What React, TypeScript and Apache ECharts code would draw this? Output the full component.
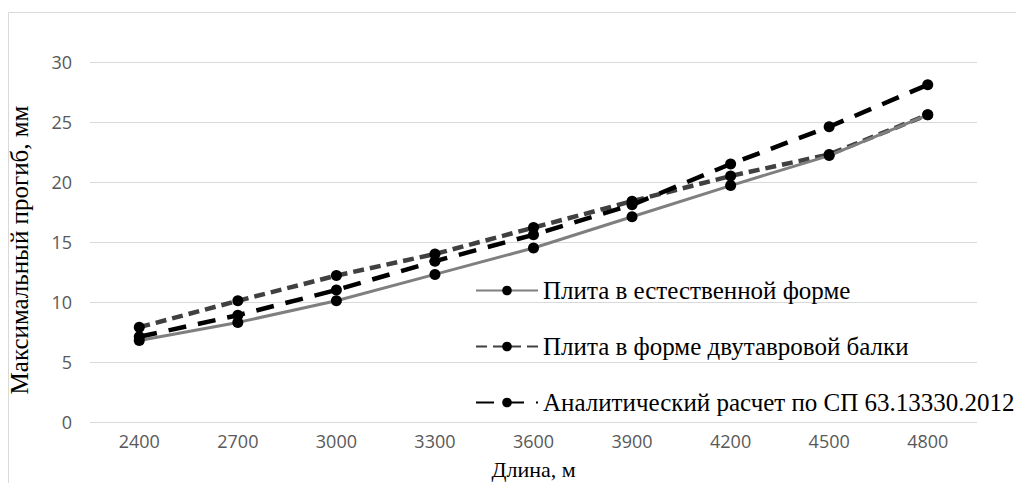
import React, { useEffect, useRef } from "react";
import * as echarts from "echarts";

const categories = ["2400", "2700", "3000", "3300", "3600", "3900", "4200", "4500", "4800"];
const naturalForm = [6.8, 8.3, 10.1, 12.3, 14.5, 17.1, 19.7, 22.2, 25.6];
const iBeamForm = [7.9, 10.1, 12.2, 14.0, 16.2, 18.4, 20.5, 22.3, 25.6];
const analytical = [7.1, 8.9, 11.0, 13.4, 15.6, 18.1, 21.5, 24.6, 28.1];
const seriesNames = [
  "Плита в естественной форме",
  "Плита в форме двутавровой балки",
  "Аналитический расчет по СП 63.13330.2012",
];

export default function App() {
  const ref = useRef<HTMLDivElement>(null);
  useEffect(() => {
    const chart = echarts.init(ref.current!, null, { renderer: "svg" });
    const serif = "'Liberation Serif', 'DejaVu Serif', serif";
    const sans = "'Open Sans', 'Noto Sans', sans-serif";
    chart.setOption({
      animation: false,
      backgroundColor: "#ffffff",
      graphic: [
        {
          type: "rect",
          shape: { x: 8.5, y: 12.5, width: 1100, height: 600 },
          style: { fill: "none", stroke: "#d9d9d9", lineWidth: 1 },
          silent: true,
          z: -1,
        },
      ],
      grid: {
        left: 90,
        right: 39,
        top: 62,
        bottom: 61,
        containLabel: false,
        outerBoundsMode: "none",
      },
      legend: {
        orient: "vertical",
        left: 470,
        top: 273,
        itemGap: 31,
        itemWidth: 62,
        itemHeight: 12,
        textStyle: { fontFamily: serif, fontSize: 25, color: "#000" },
        data: seriesNames,
      },
      xAxis: {
        type: "category",
        data: categories,
        boundaryGap: true,
        axisLine: { show: false },
        axisTick: { show: false },
        axisLabel: { color: "#595959", fontSize: 18, fontFamily: sans, margin: 10 },
        name: "Длина, м",
        nameLocation: "middle",
        nameGap: 36,
        nameTextStyle: { fontFamily: serif, fontSize: 22, color: "#000" },
      },
      yAxis: {
        type: "value",
        min: 0,
        max: 30,
        interval: 5,
        axisLine: { show: false },
        axisTick: { show: false },
        splitLine: { lineStyle: { color: "#d9d9d9", width: 1 } },
        axisLabel: { color: "#595959", fontSize: 18, fontFamily: sans, margin: 18 },
        name: "Максимальный прогиб, мм",
        nameLocation: "middle",
        nameGap: 58,
        nameRotate: 90,
        nameTextStyle: { fontFamily: serif, fontSize: 25, color: "#000", padding: [0, 16, 0, 0] },
      },
      series: [
        {
          name: seriesNames[0],
          type: "line",
          data: naturalForm,
          symbol: "circle",
          symbolSize: 11,
          itemStyle: { color: "#000" },
          lineStyle: { color: "#7f7f7f", width: 3, type: "solid" },
          z: 3,
        },
        {
          name: seriesNames[1],
          type: "line",
          data: iBeamForm,
          symbol: "circle",
          symbolSize: 11,
          itemStyle: { color: "#000" },
          lineStyle: { color: "#404040", width: 4.5, type: [11, 6] },
          z: 2,
        },
        {
          name: seriesNames[2],
          type: "line",
          data: analytical,
          symbol: "circle",
          symbolSize: 11,
          itemStyle: { color: "#000" },
          lineStyle: { color: "#000", width: 4.5, type: [18, 12] },
          z: 4,
        },
      ],
    });
    return () => chart.dispose();
  }, []);
  return (
    <div
      ref={ref}
      style={{ position: "fixed", left: 0, top: 0, width: 1016, height: 483 }}
    />
  );
}
